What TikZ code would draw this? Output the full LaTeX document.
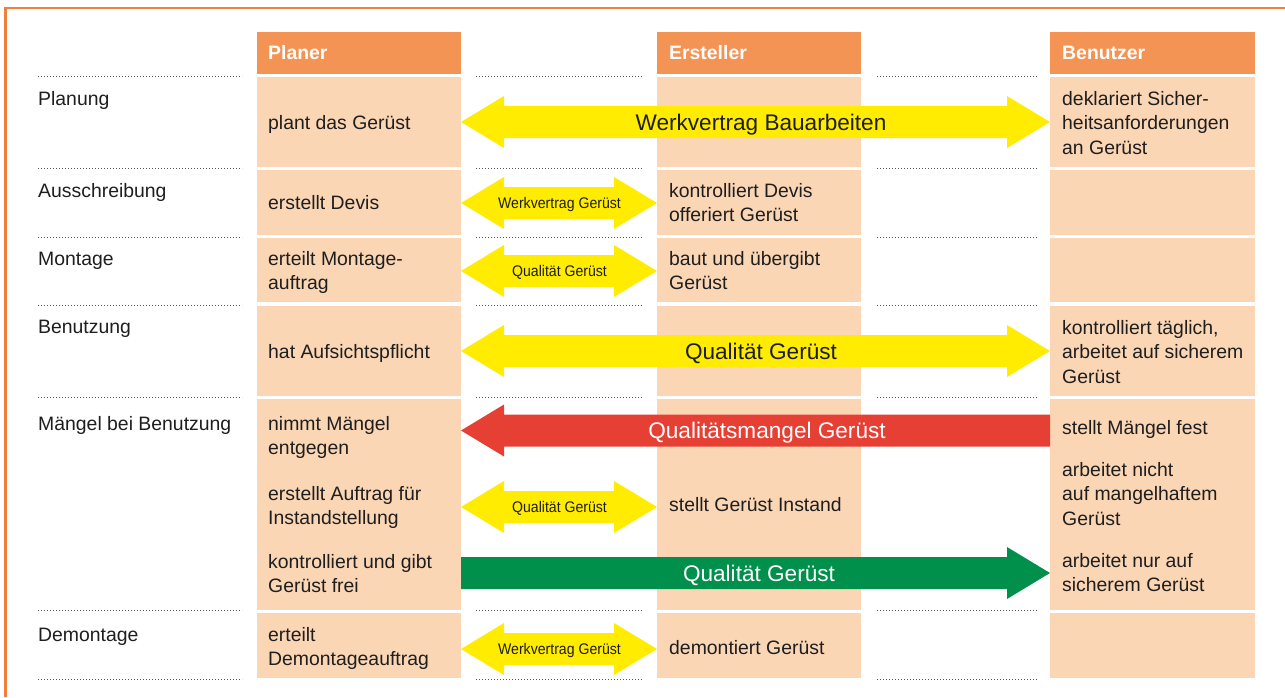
\documentclass[tikz,border=0pt]{standalone}
\usepackage{fontspec}
\setmainfont{Liberation Sans}
\newfontfamily\narrowfont[FakeStretch=0.915]{Liberation Sans}
\definecolor{framec}{HTML}{F07F3C}
\definecolor{headc}{HTML}{F39455}
\definecolor{cellc}{HTML}{FAD6B5}
\definecolor{txtc}{HTML}{1E1E1E}
\definecolor{dotc}{HTML}{555555}
\definecolor{yelc}{HTML}{FFEC00}
\definecolor{redc}{HTML}{E63F33}
\definecolor{grnc}{HTML}{00904C}
\newcommand\ml[1]{\begin{tabular}[t]{@{}l@{}}#1\end{tabular}}
% double arrow: x1 x2 y colour
\newcommand\dblarrow[4]{\fill[#4] (#1,#3) -- ({#1+43},{#3-26}) -- ({#1+43},{#3-16}) -- ({#2-43},{#3-16}) -- ({#2-43},{#3-26}) -- (#2,#3) -- ({#2-43},{#3+26}) -- ({#2-43},{#3+16}) -- ({#1+43},{#3+16}) -- ({#1+43},{#3+26}) -- cycle;}
\newcommand\leftarrowshape[4]{\fill[#4] (#1,#3) -- ({#1+43},{#3-26}) -- ({#1+43},{#3-16}) -- (#2,{#3-16}) -- (#2,{#3+16}) -- ({#1+43},{#3+16}) -- ({#1+43},{#3+26}) -- cycle;}
\newcommand\rightarrowshape[4]{\fill[#4] (#2,#3) -- ({#2-43},{#3-26}) -- ({#2-43},{#3-16}) -- (#1,{#3-16}) -- (#1,{#3+16}) -- ({#2-43},{#3+16}) -- ({#2-43},{#3+26}) -- cycle;}
\tikzset{
  cellbox/.style={fill=cellc},
  headbox/.style={fill=headc},
  dotline/.style={draw=dotc, line width=0.9pt, dash pattern=on 0.9pt off 2.1pt},
  ctext/.style={anchor=base west, inner sep=0pt, text=txtc, font=\fontsize{19.4}{24.8}\selectfont},
  htext/.style={anchor=base west, inner sep=0pt, text=white, font=\fontsize{19.4}{24.8}\selectfont\bfseries},
  biglabel/.style={anchor=base, inner sep=0pt, font=\fontsize{22.6}{26}\selectfont},
  smalllabel/.style={anchor=base, inner sep=0pt, text=txtc, font=\narrowfont\fontsize{15.4}{18}\selectfont},
}
\begin{document}
\begin{tikzpicture}[x=1pt,y=-1pt]
\useasboundingbox (0,0) rectangle (1285,697);
\fill[white] (0,0) rectangle (1285,697);
% frame
\draw[framec, line width=2.5pt] (5.3,697) -- (5.3,8) -- (1285,8);
% header cells
\foreach \xa/\xb in {257/461, 657/861, 1050/1255}{
  \fill[headbox] (\xa,32) rectangle (\xb,74);
  \foreach \ya/\yb in {77/167, 170/235, 238/302, 306/396, 399/610, 613/678}{
    \fill[cellbox] (\xa,\ya) rectangle (\xb,\yb);
  }
}
% dotted separators
\foreach \y in {76,168.5,237,305,397,610.5,679}{
  \draw[dotline] (38,\y) -- (242,\y);
  \draw[dotline] (476,\y) -- (643,\y);
  \draw[dotline] (877,\y) -- (1037,\y);
}
% headers
\node[htext] (hP) at (268,59) {Planer};
\node[htext] (hE) at (669,59) {Ersteller};
\node[htext] (hB) at (1062,59) {Benutzer};
% row labels
\node[ctext] (l1) at (38,105) {Planung};
\node[ctext] (l2) at (38,197) {Ausschreibung};
\node[ctext] (l3) at (38,265) {Montage};
\node[ctext] (l4) at (38,333) {Benutzung};
\node[ctext] (l5) at (38,430) {Mängel bei Benutzung};
\node[ctext] (l6) at (38,641) {Demontage};
% arrows
\dblarrow{461}{1050}{122}{yelc}
\dblarrow{461}{657}{203}{yelc}
\dblarrow{461}{657}{271}{yelc}
\dblarrow{461}{1050}{351}{yelc}
\leftarrowshape{461}{1050}{430.5}{redc}
\dblarrow{461}{657}{507}{yelc}
\rightarrowshape{461}{1050}{573}{grnc}
\dblarrow{461}{657}{649}{yelc}
% arrow labels
\node[biglabel, text=txtc] (a1) at (761,130) {Werkvertrag Bauarbeiten};
\node[smalllabel] (a2) at (559.5,208.5) {Werkvertrag Gerüst};
\node[smalllabel] (a3) at (559.5,276.5) {Qualität Gerüst};
\node[biglabel, text=txtc] (a4) at (761,359) {Qualität Gerüst};
\node[biglabel, text=white] (a5) at (767,438) {Qualitätsmangel Gerüst};
\node[smalllabel] (a6) at (559.5,512.5) {Qualität Gerüst};
\node[biglabel, text=white] (a7) at (759,581) {Qualität Gerüst};
\node[smalllabel] (a8) at (559.5,654.5) {Werkvertrag Gerüst};
% Planer column
\node[ctext] (p1) at (268,129) {plant das Gerüst};
\node[ctext] (p2) at (268,209) {erstellt Devis};
\node[ctext] (p3) at (268,265) {\ml{erteilt Montage-\\auftrag}};
\node[ctext] (p4) at (268,358) {hat Aufsichtspflicht};
\node[ctext] (p5) at (268,430) {\ml{nimmt Mängel\\entgegen}};
\node[ctext] (p6) at (268,500) {\ml{erstellt Auftrag für\\Instandstellung}};
\node[ctext] (p7) at (268,568) {\ml{kontrolliert und gibt\\Gerüst frei}};
\node[ctext] (p8) at (268,641) {\ml{erteilt\\Demontageauftrag}};
% Ersteller column
\node[ctext] (e2) at (669,197) {\ml{kontrolliert Devis\\offeriert Gerüst}};
\node[ctext] (e3) at (669,265) {\ml{baut und übergibt\\Gerüst}};
\node[ctext] (e6) at (669,511) {stellt Gerüst Instand};
\node[ctext] (e8) at (669,654) {demontiert Gerüst};
% Benutzer column
\node[ctext] (b1) at (1062,105) {\ml{deklariert Sicher-\\heitsanforderungen\\an Gerüst}};
\node[ctext] (b4) at (1062,334) {\ml{kontrolliert täglich,\\arbeitet auf sicherem\\Gerüst}};
\node[ctext] (b5) at (1062,434) {stellt Mängel fest};
\node[ctext] (b6) at (1062,476) {\ml{arbeitet nicht\\auf mangelhaftem\\Gerüst}};
\node[ctext] (b7) at (1062,567) {\ml{arbeitet nur auf\\sicherem Gerüst}};
\end{tikzpicture}
\end{document}
